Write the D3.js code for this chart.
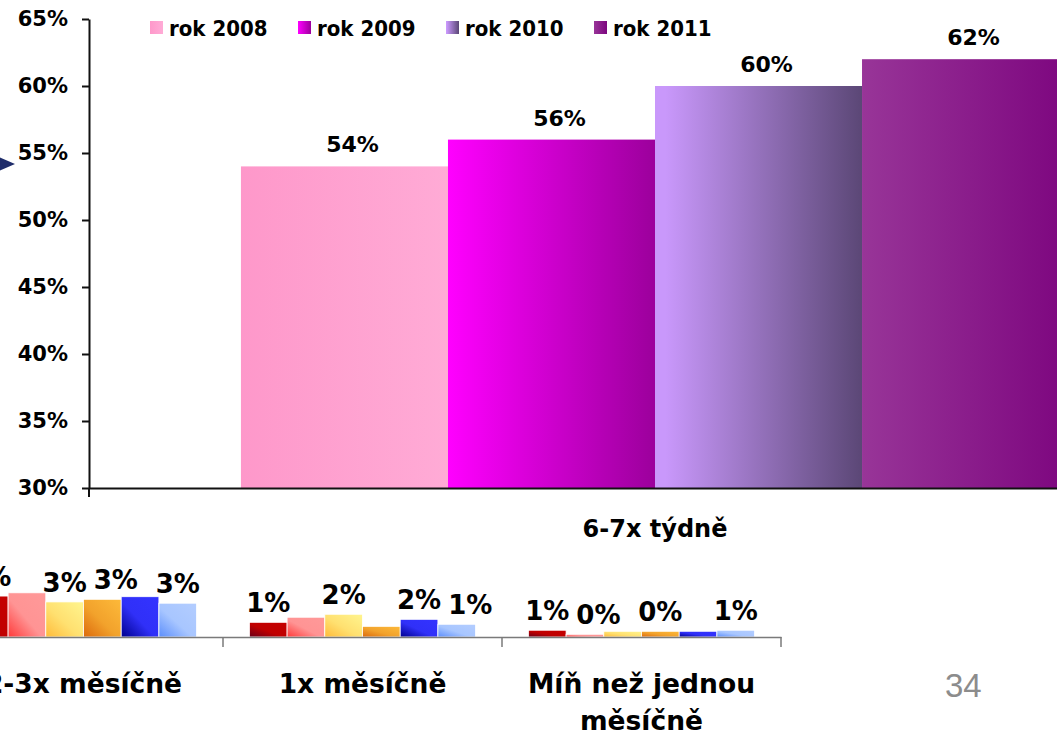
<!DOCTYPE html>
<html>
<head>
<meta charset="utf-8">
<script src="https://cdn.jsdelivr.net/npm/d3@7"></script>
<style>
  body { margin: 0; background: #fff; overflow: hidden; }
  svg { display: block; }
  text { font-family: "DejaVu Sans", Verdana, sans-serif; font-weight: bold; fill: #000; }
</style>
</head>
<body>
<div id="chart"></div>
<script>
// Top chart data
var topCategories = ["6-7x týdně"];
var years = ["rok 2008", "rok 2009", "rok 2010", "rok 2011"];
var topValues = [0.54, 0.56, 0.60, 0.62];
var yTicks = [0.30, 0.35, 0.40, 0.45, 0.50, 0.55, 0.60, 0.65];

// Bottom chart data (left part cut off in the slide)
var bottomCategories = ["2-3x měsíčně", "1x měsíčně", "Míň než jednou měsíčně"];
var bottomSeries = ["s1", "s2", "s3", "s4", "s5", "s6"];
var bottomValues = [
    [0.0315, 0.034, 0.027, 0.029, 0.031, 0.026],
    [0.0113, 0.0152, 0.0175, 0.0082, 0.0136, 0.0098],
    [0.0052, 0.0021, 0.0044, 0.0044, 0.0044, 0.0052]
];
var bottomLabels = [
    ["3%", "", "3%", "3%", "", "3%"],
    ["1%", "", "2%", "", "2%", "1%"],
    ["1%", "0%", "", "0%", "", "1%"]
];

var pageNumber = "34";

// colours
var topColors = [
    ["#fe98ca", "#ffabd6"],
    ["#ff00ff", "#9c009c"],
    ["#c998fb", "#5b4776"],
    ["#983598", "#7d067f"]
];
var bottomColors = [
    ["#680018", "#c00000", "#c40000"],
    ["#ff3a3a", "#ff9494", "#ff9999"],
    ["#ffbb3a", "#ffe070", "#fff58f"],
    ["#dc6a0c", "#f2a22c", "#fdba3a"],
    ["#00008e", "#3030f8", "#3333ff"],
    ["#5c8efc", "#a8c6ff", "#b3cdff"]
];

var svgWidth = 1057;
var svgHeight = 733;

var svg = d3.select("#chart")
    .append("svg")
    .attr("width", svgWidth)
    .attr("height", svgHeight);

var defs = svg.append("defs");

topColors.forEach(function(c, i) {
    var g = defs.append("linearGradient")
        .attr("id", "topGrad" + i)
        .attr("x1", 0).attr("y1", 0).attr("x2", 1).attr("y2", 0);
    g.append("stop").attr("offset", "0%").attr("stop-color", c[0]);
    if (i == 2) g.append("stop").attr("offset", "5%").attr("stop-color", c[0]);
    g.append("stop").attr("offset", "100%").attr("stop-color", c[1]);
});

bottomColors.forEach(function(c, i) {
    var g = defs.append("linearGradient")
        .attr("id", "botGrad" + i)
        .attr("x1", 0).attr("y1", 1).attr("x2", 1).attr("y2", 0);
    g.append("stop").attr("offset", "0%").attr("stop-color", c[0]);
    g.append("stop").attr("offset", "45%").attr("stop-color", c[1]);
    g.append("stop").attr("offset", "100%").attr("stop-color", c[2]);
});

// ---------- Top chart ----------
var yScale = d3.scaleLinear()
    .domain([0.30, 0.65])
    .range([488, 19]);

var x0 = d3.scaleBand()
    .domain(topCategories)
    .range([89, 1221]);

var x1 = d3.scaleBand()
    .domain(years)
    .range([0, x0.bandwidth()])
    .paddingOuter(0.734);

var topGroup = svg.append("g");

topGroup.selectAll("rect.topbar")
    .data(topValues)
    .enter()
    .append("rect")
    .attr("class", "topbar")
    .attr("x", (d, i) => x0(topCategories[0]) + x1(years[i]))
    .attr("y", d => yScale(d))
    .attr("width", x1.bandwidth())
    .attr("height", d => yScale(0.30) - yScale(d))
    .attr("fill", (d, i) => "url(#topGrad" + i + ")");

topGroup.selectAll("text.toplabel")
    .data(topValues)
    .enter()
    .append("text")
    .attr("class", "toplabel")
    .attr("x", (d, i) => x0(topCategories[0]) + x1(years[i]) + x1.bandwidth() / 2 + 8)
    .attr("y", d => yScale(d) - 14)
    .attr("text-anchor", "middle")
    .style("font-size", "22px")
    .text(d => d3.format(".0%")(d));

// y axis
var leftAxis = d3.axisLeft(yScale)
    .tickValues(yTicks)
    .tickFormat(d3.format(".0%"))
    .tickSize(7)
    .tickSizeOuter(0)
    .tickPadding(14);

var yAxisG = topGroup.append("g")
    .attr("transform", "translate(89,0)")
    .call(leftAxis);
yAxisG.selectAll("text").style("font-size", "21px").style("font-family", "DejaVu Sans").style("font-weight", "bold");
yAxisG.selectAll("line, path").attr("stroke", "#111").attr("stroke-width", 2);

// x axis
var bottomAxis = d3.axisBottom(x0)
    .tickSize(0)
    .tickSizeOuter(0)
    .tickPadding(32);

var xAxisG = topGroup.append("g")
    .attr("transform", "translate(0,488)")
    .call(bottomAxis);
xAxisG.select("path").attr("stroke", "#111").attr("stroke-width", 2);
xAxisG.selectAll("text").style("font-size", "24px").style("font-weight", "bold");

xAxisG.selectAll("line.edge")
    .data(x0.range())
    .enter()
    .append("line")
    .attr("class", "edge")
    .attr("x1", d => d).attr("x2", d => d)
    .attr("y1", 0).attr("y2", 9)
    .attr("stroke", "#111").attr("stroke-width", 2);

// legend
var legend = topGroup.selectAll("g.legend")
    .data(years)
    .enter()
    .append("g")
    .attr("class", "legend")
    .attr("transform", (d, i) => `translate(${150 + i * 148}, 21)`);

legend.append("rect")
    .attr("width", 13)
    .attr("height", 13)
    .attr("fill", (d, i) => "url(#topGrad" + i + ")");

legend.append("text")
    .attr("x", 19)
    .attr("y", 15)
    .style("font-family", "'DejaVu Sans Condensed', 'DejaVu Sans', sans-serif")
    .style("font-stretch", "condensed")
    .style("font-size", "22px")
    .text(d => d);

// ---------- Bottom chart ----------
var yb = d3.scaleLinear()
    .domain([0, 0.10])
    .range([637, 507]);

var xb0 = d3.scaleBand()
    .domain(bottomCategories)
    .range([-56, 781]);

var xb1 = d3.scaleBand()
    .domain(bottomSeries)
    .range([0, xb0.bandwidth()])
    .paddingOuter(0.7);

var botGroup = svg.append("g");

var catGroups = botGroup.selectAll("g.cat")
    .data(bottomCategories)
    .enter()
    .append("g")
    .attr("class", "cat")
    .attr("transform", d => `translate(${xb0(d)},0)`);

catGroups.selectAll("rect")
    .data((d, i) => bottomValues[i])
    .enter()
    .append("rect")
    .attr("x", (d, j) => xb1(bottomSeries[j]))
    .attr("y", d => yb(d))
    .attr("width", xb1.bandwidth())
    .attr("height", d => yb(0) - yb(d))
    .attr("fill", (d, j) => "url(#botGrad" + j + ")")
    .attr("stroke", "#fff")
    .attr("stroke-width", 0.8);

catGroups.each(function(c, i) {
    var g = d3.select(this);
    var prevRight = -Infinity;
    bottomValues[i].forEach(function(v, j) {
        if (!bottomLabels[i][j]) return;
        var t = g.append("text")
            .attr("x", xb1(bottomSeries[j]) + xb1.bandwidth() / 2)
            .attr("y", yb(v) - 10)
            .attr("text-anchor", "middle")
            .style("font-size", "26px")
            .text(bottomLabels[i][j]);
        // push a label to the right when it would run into the previous one
        var box = t.node().getBBox();
        if (box.x < prevRight + 7) {
            t.attr("x", +t.attr("x") + (prevRight + 7 - box.x));
            box = t.node().getBBox();
        }
        prevRight = box.x + box.width;
    });
});

var bAxis = d3.axisBottom(xb0)
    .tickSize(0)
    .tickSizeOuter(0)
    .tickPadding(37);

var bAxisG = botGroup.append("g")
    .attr("transform", "translate(0,637)")
    .call(bAxis);
bAxisG.select("path").attr("stroke", "#7a7a7a").attr("stroke-width", 1.5);
bAxisG.selectAll("text").style("font-size", "26.5px").style("font-weight", "bold")
    .call(wrap, xb0.bandwidth() - 20);

bAxisG.selectAll("line.edge")
    .data(bottomCategories.map(d => xb0(d)).concat([xb0.range()[1]]))
    .enter()
    .append("line")
    .attr("class", "edge")
    .attr("x1", d => d).attr("x2", d => d)
    .attr("y1", 0).attr("y2", 10)
    .attr("stroke", "#7a7a7a").attr("stroke-width", 1.5);

// wrap long category labels onto more lines
function wrap(texts, width) {
    texts.each(function() {
        var text = d3.select(this),
            words = text.text().split(/\s+/).reverse(),
            word,
            line = [],
            lineNumber = 0,
            lineHeight = 37,
            y = text.attr("y"),
            dy = text.attr("dy"),
            tspan = text.text(null).append("tspan").attr("x", 0).attr("y", y).attr("dy", dy);
        while (word = words.pop()) {
            line.push(word);
            tspan.text(line.join(" "));
            if (tspan.node().getComputedTextLength() > width && line.length > 1) {
                line.pop();
                tspan.text(line.join(" "));
                line = [word];
                lineNumber++;
                tspan = text.append("tspan")
                    .attr("x", 0)
                    .attr("y", +y + lineNumber * lineHeight)
                    .attr("dy", dy)
                    .text(word);
            }
        }
    });
}

// slide decorations: blue arrow at the left edge and page number
svg.append("polygon")
    .attr("points", "-6,155 15,164 -6,173")
    .attr("fill", "#1f2d6b");

svg.append("text")
    .attr("x", 945)
    .attr("y", 697)
    .style("font-family", "'Liberation Sans', Arial, sans-serif")
    .style("font-weight", "normal")
    .style("font-size", "33px")
    .style("fill", "#8c8c8c")
    .text(pageNumber);
</script>
</body>
</html>
